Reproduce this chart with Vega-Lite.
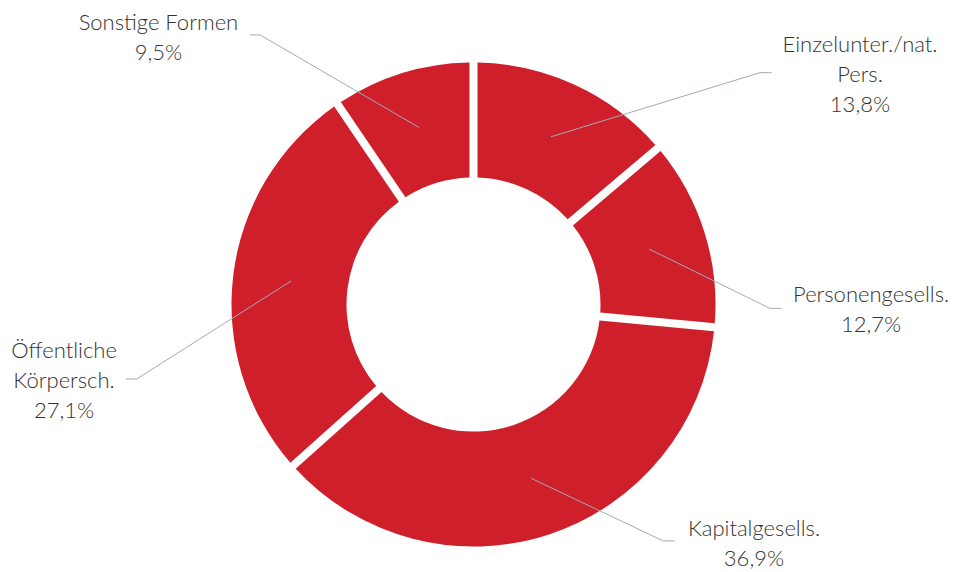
{
  "$schema": "https://vega.github.io/schema/vega-lite/v6.json",
  "width": 957,
  "height": 572,
  "padding": 0,
  "autosize": {"type": "none"},
  "background": "white",
  "config": {"view": {"stroke": null}},
  "datasets": {
    "segments": [
      {"category": "Einzelunter./nat. Pers.", "value": 13.8, "idx": 1},
      {"category": "Personengesells.", "value": 12.7, "idx": 2},
      {"category": "Kapitalgesells.", "value": 36.9, "idx": 3},
      {"category": "Öffentliche Körpersch.", "value": 27.1, "idx": 4},
      {"category": "Sonstige Formen", "value": 9.5, "idx": 5}
    ],
    "labels": [
      {"label": "Einzelunter./nat.|Pers.|13,8%", "lx": 159.7, "ly": 104.3},
      {"label": "Personengesells.|12,7%", "lx": 164.3, "ly": 1.2},
      {"label": "Kapitalgesells.|36,9%", "lx": 115.9, "ly": -95.7},
      {"label": "Öffentliche|Körpersch.|27,1%", "lx": -169.2, "ly": -22.0},
      {"label": "Sonstige Formen|9,5%", "lx": -130.2, "ly": 113.4}
    ],
    "leaders": [
      {"category": "Einzelunter./nat. Pers.", "seq": 1, "x": 32.0, "y": 69.3},
      {"category": "Einzelunter./nat. Pers.", "seq": 2, "x": 118.4, "y": 95.8},
      {"category": "Einzelunter./nat. Pers.", "seq": 3, "x": 123.2, "y": 95.8},
      {"category": "Personengesells.", "seq": 1, "x": 72.6, "y": 22.9},
      {"category": "Personengesells.", "seq": 2, "x": 122.5, "y": -1.6},
      {"category": "Personengesells.", "seq": 3, "x": 127.4, "y": -1.6},
      {"category": "Kapitalgesells.", "seq": 1, "x": 23.8, "y": -71.8},
      {"category": "Kapitalgesells.", "seq": 2, "x": 78.4, "y": -97.7},
      {"category": "Kapitalgesells.", "seq": 3, "x": 83.3, "y": -97.7},
      {"category": "Öffentliche Körpersch.", "seq": 1, "x": -75.4, "y": 9.7},
      {"category": "Öffentliche Körpersch.", "seq": 2, "x": -139.2, "y": -30.8},
      {"category": "Öffentliche Körpersch.", "seq": 3, "x": -143.6, "y": -30.8},
      {"category": "Sonstige Formen", "seq": 1, "x": -22.4, "y": 73.1},
      {"category": "Sonstige Formen", "seq": 2, "x": -88.2, "y": 111.4},
      {"category": "Sonstige Formen", "seq": 3, "x": -92.4, "y": 111.4}
    ]
  },
  "layer": [
    {
      "data": {"name": "segments"},
      "mark": {"type": "arc", "outerRadius": 242, "innerRadius": 127, "padAngle": 0.0293, "color": "#cf1f2a"},
      "encoding": {
        "theta": {"field": "value", "type": "quantitative", "stack": true},
        "order": {"field": "idx", "type": "quantitative"},
        "x": {"datum": 0, "type": "quantitative", "scale": {"domain": [-195.66, 199.79], "nice": false, "zero": false}, "axis": null},
        "y": {"datum": 0, "type": "quantitative", "scale": {"domain": [-110.54, 125.83], "nice": false, "zero": false}, "axis": null}
      }
    },
    {
      "data": {"name": "leaders"},
      "mark": {"type": "line", "color": "#a3abb5", "strokeWidth": 1},
      "encoding": {
        "x": {"field": "x", "type": "quantitative"},
        "y": {"field": "y", "type": "quantitative"},
        "detail": {"field": "category"},
        "order": {"field": "seq", "type": "quantitative"}
      }
    },
    {
      "data": {"name": "labels"},
      "mark": {"type": "text", "font": "Lato", "fontWeight": 300, "fontSize": 22, "lineBreak": "|", "lineHeight": 30, "align": "center", "baseline": "alphabetic", "color": "#333333"},
      "encoding": {
        "x": {"field": "lx", "type": "quantitative"},
        "y": {"field": "ly", "type": "quantitative"},
        "text": {"field": "label"}
      }
    }
  ]
}
